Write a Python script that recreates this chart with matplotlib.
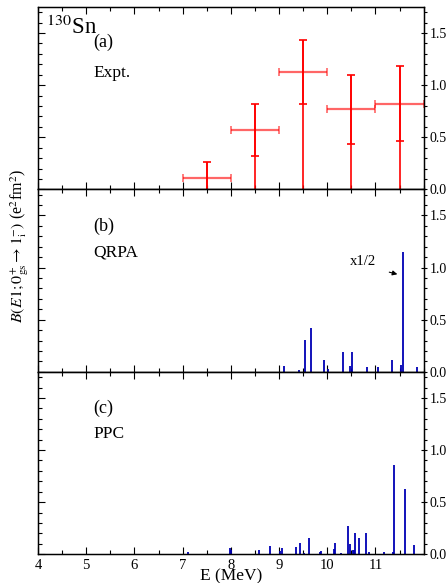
#!/usr/bin/env python3
"""E1 strength in 130Sn: experiment vs QRPA vs PPC"""

import numpy as np
import matplotlib
matplotlib.use("Agg")
import matplotlib.pyplot as plt
from matplotlib.ticker import MultipleLocator, FormatStrFormatter

plt.rcParams['font.family'] = ['Liberation Serif', 'DejaVu Serif']
plt.rcParams['mathtext.fontset'] = 'stix'

# (a) experiment: 1 MeV bins
expt_E = [7.5, 8.5, 9.5, 10.5, 11.5]
expt_B = [0.11, 0.57, 1.125, 0.77, 0.82]
expt_dB = [0.155, 0.25, 0.31, 0.33, 0.36]
expt_dE = [0.5, 0.5, 0.5, 0.5, 0.5]

# (b) QRPA (the big peak is shown x1/2)
qrpa_E = [9.10, 9.42, 9.53, 9.66, 9.93, 10.02, 10.33, 10.47, 10.51,
          10.82, 11.06, 11.35, 11.53, 11.57, 11.87]
qrpa_B = [0.054, 0.02, 0.307, 0.425, 0.11, 0.03, 0.19, 0.055, 0.19,
          0.05, 0.05, 0.115, 0.067, 1.148, 0.048]

# (c) PPC
ppc_E = [7.11, 7.99, 8.01, 8.59, 8.82, 9.02, 9.07, 9.35, 9.43, 9.52,
         9.63, 9.85, 9.87, 10.14, 10.17, 10.29, 10.43, 10.48, 10.53,
         10.55, 10.58, 10.66, 10.81, 10.87, 11.18, 11.36, 11.375,
         11.62, 11.80]
ppc_B = [0.02, 0.058, 0.04, 0.045, 0.08, 0.035, 0.06, 0.074, 0.109, 0.01,
         0.154, 0.02, 0.03, 0.048, 0.11, 0.01, 0.27, 0.10, 0.04,
         0.04, 0.205, 0.153, 0.20, 0.026, 0.026, 0.02, 0.857,
         0.624, 0.093]

red = '#ff0000'
blue = '#0000b4'

fig, axes = plt.subplots(3, 1, sharex=True, figsize=(4.46, 5.83), dpi=100)
fig.subplots_adjust(left=0.0852, right=0.95, top=0.988, bottom=0.0492, hspace=0)

for ax in axes:
    ax.set_xlim(4, 12)
    ax.set_ylim(0, 1.75)
    ax.xaxis.set_major_locator(MultipleLocator(1))
    ax.xaxis.set_minor_locator(MultipleLocator(0.5))
    ax.yaxis.set_major_locator(MultipleLocator(0.5))
    ax.yaxis.set_minor_locator(MultipleLocator(0.1))
    ax.tick_params(which='both', direction='in', top=True, bottom=True,
                   left=True, right=False, labelleft=False, labelsize=10.5)
    ax.tick_params(which='major', length=5, width=0.8)
    ax.tick_params(which='minor', length=3, width=0.8)
    for s in ax.spines.values():
        s.set_linewidth(1.0)
    tw = ax.twinx()
    tw.set_ylim(0, 1.75)
    tw.yaxis.set_major_locator(MultipleLocator(0.5))
    tw.yaxis.set_minor_locator(MultipleLocator(0.1))
    tw.yaxis.set_major_formatter(FormatStrFormatter('%.1f'))
    tw.tick_params(which='major', direction='inout', length=5, width=0.8,
                   labelsize=10, pad=2)
    tw.tick_params(which='minor', direction='out', length=2.5, width=0.8)
    tw.set_yticks([0, 0.5, 1.0, 1.5])

# (a)
ax = axes[0]
top = np.array(expt_B) + np.array(expt_dB)
ax.vlines(expt_E, 0, top, color=red, lw=1.2)
ax.errorbar(expt_E, expt_B, yerr=expt_dB, fmt='none', ecolor=red,
            elinewidth=1.2, capsize=3, capthick=1.2)
ax.errorbar(expt_E, expt_B, xerr=expt_dE, fmt='none', ecolor=red,
            elinewidth=1.6, capsize=3, capthick=1.2, alpha=0.6)
ax.text(0.022, 0.89, r'$^{130}$Sn', transform=ax.transAxes, fontsize=16.5,
        va='center', ha='left')
ax.text(0.143, 0.805, '(a)', transform=ax.transAxes, fontsize=13,
        va='center', ha='left')
ax.text(0.143, 0.64, 'Expt.', transform=ax.transAxes, fontsize=12.5,
        va='center', ha='left')

# (b)
ax = axes[1]
ax.vlines(qrpa_E, 0, qrpa_B, color=blue, lw=1.3)
ax.text(0.143, 0.80, '(b)', transform=ax.transAxes, fontsize=13,
        va='center', ha='left')
ax.text(0.143, 0.654, 'QRPA', transform=ax.transAxes, fontsize=12.5,
        va='center', ha='left')
ax.text(10.75, 1.055, 'x1/2', fontsize=10.5, ha='center', va='center')
ax.annotate('', xy=(11.51, 0.93), xytext=(11.23, 0.963),
            arrowprops=dict(arrowstyle='-|>', color='k', lw=0.8,
                            mutation_scale=7))
ax.set_ylabel(r'$B(E1;0^{+}_{\mathrm{gs}}\rightarrow 1^{-}_{\mathrm{i}})$ (e$^2$fm$^2$)',
              fontsize=11.5)
ax.yaxis.set_label_coords(-0.018, 0.69)

# (c)
ax = axes[2]
ax.vlines(ppc_E, 0, ppc_B, color=blue, lw=1.3)
ax.text(0.143, 0.80, '(c)', transform=ax.transAxes, fontsize=13,
        va='center', ha='left')
ax.text(0.143, 0.66, 'PPC', transform=ax.transAxes, fontsize=12.5,
        va='center', ha='left')
ax.set_xticks(range(4, 12))
ax.set_xlabel('E (MeV)', fontsize=12.5, labelpad=-3)

fig.savefig('out.png', dpi=100)
